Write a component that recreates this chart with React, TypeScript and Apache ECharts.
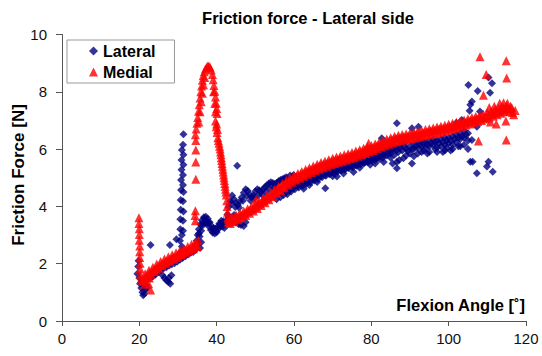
import React, { useEffect, useRef } from "react";
import * as echarts from "echarts";

const FONT = "'Liberation Sans', Arial, Helvetica, sans-serif";

const xTicks = [0, 20, 40, 60, 80, 100, 120];
const yTicks = [0, 2, 4, 6, 8, 10];

// ---------------- Lateral (navy diamonds) ----------------
const lateralLowCluster = [
  [19.5, 1.65], [19.7, 1.9], [20.0, 1.5], [20.2, 1.3], [20.5, 1.15], [20.8, 1.0], [21.0, 0.9],
  [21.3, 0.95], [21.6, 1.1], [21.8, 1.25], [22.0, 1.15], [21.2, 1.2], [20.6, 1.35], [19.8, 2.1],
];
const lateralLowBand = [
  [22.8, 1.5], [23.5, 1.55], [24.2, 1.62], [24.9, 1.7], [25.6, 1.78], [26.3, 1.84], [27.0, 1.88],
  [27.7, 1.94], [28.4, 1.98], [29.1, 2.02], [29.8, 2.08], [30.5, 2.14], [31.2, 2.2], [31.9, 2.26],
  [32.6, 2.32], [33.3, 2.38], [34.0, 2.42], [34.6, 2.5],
  [26.0, 1.6], [26.5, 1.5], [27.0, 1.42], [27.5, 1.36], [28.0, 1.3], [27.6, 1.5], [28.3, 1.6],
];
const lateralColumn = [
  [31.4, 6.52], [31.3, 6.15], [31.0, 5.97], [31.4, 5.8], [30.9, 5.62], [31.4, 5.45], [30.9, 5.28],
  [31.3, 5.1], [30.8, 4.92], [31.3, 4.75], [30.8, 4.57], [31.4, 4.5], [30.7, 4.22], [31.3, 4.18],
  [30.7, 3.88], [31.4, 3.82], [30.6, 3.55], [31.3, 3.5], [30.6, 3.2], [31.3, 3.15], [31.0, 3.0],
  [29.6, 2.85], [30.5, 2.8], [31.0, 2.6], [30.7, 2.4],
];
const lateralWave = [
  [34.8, 2.8], [35.1, 3.0], [35.4, 3.2], [35.8, 3.38], [36.2, 3.52], [36.7, 3.62], [37.2, 3.64],
  [37.7, 3.57], [38.2, 3.45], [38.7, 3.32], [39.2, 3.24], [39.7, 3.22], [40.2, 3.28], [40.7, 3.4],
  [41.2, 3.5], [41.7, 3.48], [42.2, 3.42], [42.6, 3.5],
  [34.2, 2.55], [34.7, 2.62], [35.2, 2.75], [35.6, 2.95], [36.0, 3.15], [36.5, 3.35], [37.0, 3.45],
  [37.5, 3.42], [38.0, 3.3], [38.5, 3.18], [39.0, 3.08], [39.5, 3.05], [40.0, 3.1], [40.5, 3.22],
  [41.0, 3.32], [41.5, 3.3], [42.0, 3.25], [36.0, 2.75], [35.7, 2.55],
  [35.4, 3.05], [36.1, 3.35], [36.9, 3.55], [37.9, 3.45], [38.9, 3.2], [39.9, 3.15], [40.9, 3.38],
  [41.9, 3.36],
];
const lateralRise = [
  [42.8, 3.72], [43.1, 3.98], [43.5, 4.18], [44.0, 4.38], [44.5, 4.25], [45.0, 4.12], [45.5, 4.05],
  [46.0, 4.18], [46.5, 4.32], [47.0, 4.48], [47.5, 4.6], [48.0, 4.55], [48.5, 4.42], [49.0, 4.32],
  [49.5, 4.38], [50.0, 4.52], [50.5, 4.6], [51.0, 4.56], [51.5, 4.52], [52.0, 4.6], [52.5, 4.68],
  [53.0, 4.74], [53.5, 4.8], [54.0, 4.84], [54.5, 4.82], [55.0, 4.78], [55.5, 4.82], [56.0, 4.88],
  [56.5, 4.92], [57.0, 4.95], [57.5, 4.98], [58.0, 5.02], [59.0, 5.08], [59.9, 5.1],
  [43.8, 4.1], [44.8, 3.98], [45.8, 3.95], [46.8, 4.2], [47.8, 4.35], [48.8, 4.2], [49.8, 4.3],
  [50.8, 4.4], [51.8, 4.4], [52.8, 4.5], [53.8, 4.62], [54.8, 4.66],
  [43.0, 3.6], [43.5, 3.42], [44.2, 3.5], [44.5, 3.7], [45.0, 3.45], [45.7, 3.38], [46.3, 3.35],
  [47.0, 3.32], [47.5, 3.45], [55.5, 4.25], [56.5, 4.32], [57.3, 4.4],
];
const lateralMidBand = [
  [58, 4.5], [59, 4.6], [60, 4.68], [61, 4.72], [62, 4.75], [63, 4.82], [64, 4.9], [65, 4.95],
  [66, 5.02], [67, 5.05], [68, 5.1], [69, 5.15], [70, 5.2], [71, 5.22], [72, 5.28], [73, 5.3],
  [74, 5.35], [75, 5.38], [76, 5.45], [77, 5.48], [78, 5.5], [79, 5.55], [80, 5.6], [81, 5.62],
  [82, 5.65], [83, 5.7], [84, 5.78], [85, 5.85],
  [58.5, 4.6], [59.5, 4.7], [60.5, 4.78], [61.5, 4.85], [62.5, 4.9], [63.5, 4.97], [64.5, 5.03],
  [65.5, 5.09], [66.5, 5.15], [67.5, 5.2], [68.5, 5.25], [69.5, 5.3], [70.5, 5.35], [71.5, 5.39],
  [72.5, 5.43], [73.5, 5.47], [74.5, 5.51], [75.5, 5.56], [76.5, 5.61], [77.5, 5.66], [78.5, 5.71],
  [79.5, 5.76], [80.5, 5.81], [81.5, 5.86], [82.5, 5.92], [83.5, 5.97], [84.5, 6.02],
  [62.5, 4.62], [68.1, 4.63], [66.0, 4.85], [71.1, 5.04], [75.4, 5.2], [79.7, 5.45], [72.8, 5.15],
  [77.0, 5.35], [64.0, 4.75], [70.0, 5.05], [82.7, 6.38], [83.2, 5.55], [81.0, 5.5],
];
const lateralMidBandLow = [
  [58.25, 4.42], [59.25, 4.52], [60.25, 4.6], [61.25, 4.66], [62.25, 4.72], [63.25, 4.78],
  [64.25, 4.84], [65.25, 4.9], [66.25, 4.96], [67.25, 5.02], [68.25, 5.07], [69.25, 5.12],
  [70.25, 5.17], [71.25, 5.21], [72.25, 5.25], [73.25, 5.29], [74.25, 5.33], [75.25, 5.37],
  [76.25, 5.42], [77.25, 5.47], [78.25, 5.52], [79.25, 5.57], [80.25, 5.62], [81.25, 5.68],
  [82.25, 5.73], [83.25, 5.79], [84.25, 5.84],
  [58.75, 4.55], [59.75, 4.65], [60.75, 4.73], [61.75, 4.8], [62.75, 4.87], [63.75, 4.93],
  [64.75, 4.99], [65.75, 5.05], [66.75, 5.11], [67.75, 5.16], [68.75, 5.21], [69.75, 5.26],
  [70.75, 5.3], [71.75, 5.34], [72.75, 5.38], [73.75, 5.42], [74.75, 5.46], [75.75, 5.51],
  [76.75, 5.56], [77.75, 5.61], [78.75, 5.66], [79.75, 5.71], [80.75, 5.76], [81.75, 5.82],
  [82.75, 5.88], [83.75, 5.93], [84.75, 5.98],
];
const lateralHighCluster = [
  [85, 5.95], [85, 6.15], [85, 5.7], [85.5, 5.5], [86, 6.05], [86, 5.8], [86.6, 5.33], [86.6, 5.55],
  [87, 6.1], [87, 5.9], [87.2, 5.62], [88, 6.2], [88, 5.95], [88.3, 5.68], [89, 6.0], [89, 5.78],
  [89, 6.25], [90, 6.1], [90, 5.85], [90.5, 5.5], [91, 6.2], [91, 6.0], [91, 5.75], [92, 6.25],
  [92, 6.05], [92, 5.85], [93, 6.3], [93, 6.1], [93, 5.9], [94, 6.25], [94, 6.05], [95, 6.3],
  [95, 6.1], [95, 5.9], [96, 6.35], [96, 6.15], [97, 6.3], [97, 6.05], [97, 5.9], [98, 6.35],
  [98, 6.1], [99, 6.4], [99, 6.15], [99, 5.95], [100, 6.4], [100, 6.2], [101, 6.45], [101, 6.15],
  [101, 6.0], [102, 6.5], [102, 6.25], [103, 6.55], [103, 6.35], [103, 6.1], [104, 6.65],
  [104, 6.4], [104, 6.15], [105, 6.55], [105, 6.3], [105, 6.0], [105.6, 5.56], [106, 6.32],
  [85.5, 6.0], [86.5, 5.95], [87.5, 6.05], [88.5, 6.1], [89.5, 5.95], [90.5, 6.0], [91.5, 6.1],
  [92.5, 6.15], [93.5, 6.2], [94.5, 6.15], [95.5, 6.2], [96.5, 6.25], [97.5, 6.2], [98.5, 6.25],
  [99.5, 6.3], [100.5, 6.3], [101.5, 6.35], [102.5, 6.4], [103.5, 6.45], [104.5, 6.5],
  [93.5, 5.95], [96.5, 6.0], [99.5, 6.05], [102.5, 6.1], [94.5, 5.85], [98.5, 5.9], [100.5, 5.95],
];
const lateralOutliers = [
  [22.9, 2.65], [27.9, 2.65], [45.3, 5.42],
  [86.6, 6.9], [92.2, 6.78], [90.5, 6.73], [102, 6.92], [103.4, 7.02], [105.1, 8.24], [111.2, 8.3],
  [110.3, 8.5], [107.5, 8.03], [110.7, 7.97], [106, 7.66], [105.4, 7.34], [108.1, 7.31],
  [107.3, 6.78], [106.2, 5.56], [107.3, 5.16], [110.3, 5.56], [109.9, 5.39], [111.4, 5.21],
  [105.6, 7.55],
];

// ---------------- Medial (red triangles) ----------------
const medialStartColumn = [
  [19.9, 3.6], [19.9, 3.4], [20.0, 3.22], [20.0, 3.02], [20.0, 2.82], [20.1, 2.62], [20.1, 2.42],
  [20.1, 2.22], [20.2, 2.02], [20.2, 1.82], [20.3, 1.62], [20.4, 1.45], [20.8, 1.38], [21.2, 1.45],
];
const medialLowBand = [
  [21.5, 1.65], [22.5, 1.77], [23.5, 1.88], [24.5, 1.99], [25.5, 2.08], [26.5, 2.16], [27.5, 2.24],
  [28.5, 2.31], [29.5, 2.38], [30.5, 2.46], [31.5, 2.53], [32.5, 2.6], [33.5, 2.68], [34.5, 2.76],
  [35.2, 2.82],
  [21, 1.42], [22, 1.52], [23, 1.63], [24, 1.74], [25, 1.84], [26, 1.93], [27, 2.0], [28, 2.08],
  [29, 2.15], [30, 2.22], [31, 2.3], [32, 2.37], [33, 2.44], [34, 2.52], [35, 2.6],
  [21.25, 1.5], [21.75, 1.56], [22.25, 1.62], [22.75, 1.68], [23.25, 1.73], [23.75, 1.79],
  [24.25, 1.84], [24.75, 1.89], [25.25, 1.94], [25.75, 1.99], [26.25, 2.03], [26.75, 2.07],
  [27.25, 2.1], [27.75, 2.14], [28.25, 2.18], [28.75, 2.22], [29.25, 2.25], [29.75, 2.29],
  [30.25, 2.32], [30.75, 2.36], [31.25, 2.4], [31.75, 2.44], [32.25, 2.47], [32.75, 2.51],
  [33.25, 2.54], [33.75, 2.58], [34.25, 2.62], [34.75, 2.66],
  [21.4, 1.28], [22.4, 1.3], [22.9, 1.08], [22.6, 1.5],
];
const medialIsolatedColumn = [
  [34.6, 6.3], [34.6, 5.97], [34.6, 5.55], [34.6, 4.95], [34.5, 3.85], [34.5, 3.5], [34.4, 3.68],
];
const medialPeak = [
  [34.5, 6.5], [34.7, 6.7], [34.9, 6.9], [35.1, 7.1], [35.3, 7.32], [35.5, 7.55], [35.7, 7.78],
  [35.9, 8.0], [36.1, 8.2], [36.3, 8.4], [36.5, 8.56], [36.8, 8.7], [37.1, 8.8], [37.4, 8.86],
  [37.7, 8.9], [38.0, 8.9],
  [35.4, 6.95], [35.7, 7.3], [36.0, 7.65], [36.3, 7.95], [36.6, 8.25], [36.9, 8.5],
  [38.3, 8.86], [38.6, 8.76], [38.9, 8.6], [39.1, 8.42], [39.3, 8.22], [39.5, 8.02], [39.7, 7.82],
  [39.9, 7.6], [40.0, 7.42], [40.1, 7.24], [39.2, 8.0], [39.5, 7.6], [39.7, 7.3],
  [39.7, 6.98], [39.9, 6.78], [40.1, 6.58], [40.3, 6.4], [40.6, 6.2], [40.9, 6.0], [41.1, 5.8],
  [41.3, 5.6], [41.5, 5.4], [41.7, 5.2], [41.9, 5.0], [42.1, 4.8], [42.3, 4.6], [42.5, 4.4],
  [42.6, 4.2], [42.7, 4.0], [42.8, 3.8], [42.9, 3.6], [43.0, 3.45],
  [40.0, 6.88], [40.2, 6.68], [40.45, 6.3], [40.75, 6.1], [41.0, 5.9], [41.2, 5.7], [41.4, 5.5],
  [41.6, 5.3], [41.8, 5.1], [42.0, 4.9], [42.2, 4.7], [42.4, 4.5],
];
const medialMainUpper = [
  [43, 3.55], [44, 3.62], [45, 3.7], [46, 3.77], [47, 3.84], [48, 3.92], [49, 4.0], [50, 4.08],
  [51, 4.18], [52, 4.28], [53, 4.38], [54, 4.48], [55, 4.6], [56, 4.7], [57, 4.8], [58, 4.9],
  [59, 5.0], [60, 5.08], [61, 5.15], [62, 5.22], [63, 5.29], [64, 5.35], [65, 5.41], [66, 5.47],
  [67, 5.53], [68, 5.58], [69, 5.63], [70, 5.68], [71, 5.72], [72, 5.76], [73, 5.8], [74, 5.84],
  [75, 5.88], [76, 5.93], [77, 5.98], [78, 6.03], [79, 6.08], [80, 6.13], [81, 6.18], [82, 6.24],
  [83, 6.3], [84, 6.35], [85, 6.4], [86, 6.45], [87, 6.48], [88, 6.51], [89, 6.53], [90, 6.56],
  [91, 6.59], [92, 6.62], [93, 6.65], [94, 6.68], [95, 6.71], [96, 6.74], [97, 6.77], [98, 6.8],
  [99, 6.83], [100, 6.87], [101, 6.9], [102, 6.94], [103, 6.98], [104, 7.02], [105, 7.06],
  [106, 7.1], [107, 7.14], [108, 7.18], [109, 7.22], [110, 7.27], [111, 7.32], [112, 7.38],
  [113, 7.43], [114, 7.48], [115, 7.52], [116, 7.5],
];
const medialMainMid = [
  [43.25, 3.47], [44.25, 3.54], [45.25, 3.62], [46.25, 3.69], [47.25, 3.76], [48.25, 3.84],
  [49.25, 3.92], [50.25, 4.0], [51.25, 4.1], [52.25, 4.2], [53.25, 4.3], [54.25, 4.41],
  [55.25, 4.52], [56.25, 4.62], [57.25, 4.72], [58.25, 4.82], [59.25, 4.92], [60.25, 5.0],
  [61.25, 5.07], [62.25, 5.14], [63.25, 5.2], [64.25, 5.26], [65.25, 5.32], [66.25, 5.38],
  [67.25, 5.44], [68.25, 5.49], [69.25, 5.54], [70.25, 5.59], [71.25, 5.63], [72.25, 5.67],
  [73.25, 5.71], [74.25, 5.75], [75.25, 5.79], [76.25, 5.84], [77.25, 5.89], [78.25, 5.94],
  [79.25, 5.99], [80.25, 6.04], [81.25, 6.1], [82.25, 6.15], [83.25, 6.21], [84.25, 6.26],
  [85.25, 6.31], [86.25, 6.36], [87.25, 6.39], [88.25, 6.42], [89.25, 6.44], [90.25, 6.47],
  [91.25, 6.5], [92.25, 6.53], [93.25, 6.56], [94.25, 6.59], [95.25, 6.62], [96.25, 6.65],
  [97.25, 6.68], [98.25, 6.71], [99.25, 6.74], [100.25, 6.78], [101.25, 6.81], [102.25, 6.85],
  [103.25, 6.89], [104.25, 6.93], [105.25, 6.97], [106.25, 7.01], [107.25, 7.05], [108.25, 7.09],
  [109.25, 7.13], [110.25, 7.18], [111.25, 7.24], [112.25, 7.29], [113.25, 7.34], [114.25, 7.39],
  [115.25, 7.42],
  [43.75, 3.5], [44.75, 3.58], [45.75, 3.66], [46.75, 3.73], [47.75, 3.81], [48.75, 3.89],
  [49.75, 3.97], [50.75, 4.07], [51.75, 4.17], [52.75, 4.27], [53.75, 4.37], [54.75, 4.49],
  [55.75, 4.6], [56.75, 4.7], [57.75, 4.8], [58.75, 4.9], [59.75, 4.98], [60.75, 5.05],
  [61.75, 5.12], [62.75, 5.19], [63.75, 5.25], [64.75, 5.31], [65.75, 5.37], [66.75, 5.43],
  [67.75, 5.48], [68.75, 5.53], [69.75, 5.58], [70.75, 5.62], [71.75, 5.66], [72.75, 5.7],
  [73.75, 5.74], [74.75, 5.78], [75.75, 5.83], [76.75, 5.88], [77.75, 5.93], [78.75, 5.98],
  [79.75, 6.03], [80.75, 6.08], [81.75, 6.14], [82.75, 6.2], [83.75, 6.25], [84.75, 6.3],
  [85.75, 6.35], [86.75, 6.38], [87.75, 6.41], [88.75, 6.43], [89.75, 6.46], [90.75, 6.49],
  [91.75, 6.52], [92.75, 6.55], [93.75, 6.58], [94.75, 6.61], [95.75, 6.64], [96.75, 6.67],
  [97.75, 6.7], [98.75, 6.73], [99.75, 6.77], [100.75, 6.8], [101.75, 6.84], [102.75, 6.88],
  [103.75, 6.92], [104.75, 6.96], [105.75, 7.0], [106.75, 7.04], [107.75, 7.08], [108.75, 7.12],
  [109.75, 7.17], [110.75, 7.22], [111.75, 7.28], [112.75, 7.33], [113.75, 7.38], [114.75, 7.42],
  [115.75, 7.4],
];
const medialMainLower = [
  [43.5, 3.4], [44.5, 3.46], [45.5, 3.53], [46.5, 3.6], [47.5, 3.68], [48.5, 3.76], [49.5, 3.84],
  [50.5, 3.93], [51.5, 4.03], [52.5, 4.13], [53.5, 4.23], [54.5, 4.34], [55.5, 4.45], [56.5, 4.55],
  [57.5, 4.65], [58.5, 4.75], [59.5, 4.84], [60.5, 4.92], [61.5, 4.98], [62.5, 5.05], [63.5, 5.12],
  [64.5, 5.18], [65.5, 5.24], [66.5, 5.3], [67.5, 5.35], [68.5, 5.4], [69.5, 5.45], [70.5, 5.5],
  [71.5, 5.54], [72.5, 5.58], [73.5, 5.62], [74.5, 5.66], [75.5, 5.7], [76.5, 5.75], [77.5, 5.8],
  [78.5, 5.85], [79.5, 5.9], [80.5, 5.95], [81.5, 6.01], [82.5, 6.07], [83.5, 6.12], [84.5, 6.17],
  [85.5, 6.22], [86.5, 6.26], [87.5, 6.29], [88.5, 6.32], [89.5, 6.35], [90.5, 6.37], [91.5, 6.4],
  [92.5, 6.43], [93.5, 6.46], [94.5, 6.49], [95.5, 6.52], [96.5, 6.55], [97.5, 6.58], [98.5, 6.61],
  [99.5, 6.65], [100.5, 6.68], [101.5, 6.72], [102.5, 6.76], [103.5, 6.8], [104.5, 6.84],
  [105.5, 6.88], [106.5, 6.92], [107.5, 6.96], [108.5, 7.0], [109.5, 7.05], [110.5, 7.09],
  [111.5, 7.15], [112.5, 7.2], [113.5, 7.25], [114.5, 7.3], [115.5, 7.32], [116.5, 7.28],
];
const medialEndSpikes = [
  [110.5, 7.45], [111.8, 7.5], [113.2, 7.6], [114.2, 7.62], [115.2, 7.6], [116.3, 7.45],
  [112.3, 6.88], [114.8, 6.98], [110.8, 6.95], [116.8, 7.2], [117.2, 7.35],
];
const medialOutliers = [
  [108.1, 9.22], [114.9, 9.08], [109.7, 8.6], [115.0, 8.48], [109.0, 7.88], [107.7, 6.28],
  [114.9, 6.32], [79.3, 6.2], [50.2, 4.25],
];

const lateralData = [
  ...lateralLowCluster, ...lateralLowBand, ...lateralColumn, ...lateralWave, ...lateralRise,
  ...lateralMidBand, ...lateralMidBandLow, ...lateralHighCluster, ...lateralOutliers,
];
const medialData = [
  ...medialStartColumn, ...medialLowBand, ...medialIsolatedColumn, ...medialPeak,
  ...medialMainUpper, ...medialMainMid, ...medialMainLower, ...medialEndSpikes, ...medialOutliers,
];

export default function App() {
  const ref = useRef<HTMLDivElement>(null);
  useEffect(() => {
    if (!ref.current) return;
    const chart = echarts.init(ref.current, null, { renderer: "svg" });
    chart.setOption({
      animation: false,
      backgroundColor: "#ffffff",
      textStyle: { fontFamily: FONT },
      grid: { left: 62, right: 16, top: 34.5, bottom: 35, containLabel: false },
      xAxis: {
        type: "value",
        min: xTicks[0],
        max: xTicks[xTicks.length - 1],
        interval: 20,
        axisLine: { show: true, lineStyle: { color: "#555", width: 1 } },
        axisTick: { show: true, length: 5, lineStyle: { color: "#555" } },
        splitLine: { show: false },
        axisLabel: { fontSize: 15, color: "#111", margin: 10, fontFamily: FONT },
      },
      yAxis: {
        type: "value",
        min: yTicks[0],
        max: yTicks[yTicks.length - 1],
        interval: 2,
        axisLine: { show: true, lineStyle: { color: "#555", width: 1 } },
        axisTick: { show: true, length: 6, lineStyle: { color: "#555" } },
        splitLine: { show: false },
        axisLabel: { fontSize: 15, color: "#111", margin: 15, fontFamily: FONT },
      },
      legend: {
        data: ["Lateral", "Medial"],
        orient: "vertical",
        left: 67,
        top: 40,
        padding: [3, 19, 3, 22],
        itemGap: 5,
        itemWidth: 9,
        itemHeight: 9,
        backgroundColor: "#ffffff",
        borderColor: "#999",
        borderWidth: 1,
        borderRadius: 0,
        textStyle: { fontSize: 16, fontWeight: "bold", color: "#000", fontFamily: FONT, lineHeight: 16 },
      },
      graphic: [
        {
          type: "text",
          x: 308,
          y: 18,
          style: {
            text: "Friction force - Lateral side",
            font: `bold 16.5px ${FONT}`,
            fill: "#000",
            textAlign: "center",
            textVerticalAlign: "middle",
          },
        },
        {
          type: "text",
          x: 18,
          y: 175,
          rotation: Math.PI / 2,
          style: {
            text: "Friction Force [N]",
            font: `bold 17px ${FONT}`,
            fill: "#000",
            textAlign: "center",
            textVerticalAlign: "middle",
          },
        },
        {
          type: "text",
          x: 525,
          y: 305,
          style: {
            text: "Flexion Angle [˚]",
            font: `bold 16.5px ${FONT}`,
            fill: "#000",
            textAlign: "right",
            textVerticalAlign: "middle",
          },
        },
      ],
      series: [
        {
          name: "Lateral",
          type: "scatter",
          symbol: "diamond",
          symbolSize: 8,
          itemStyle: { color: "#000080" },
          data: lateralData,
        },
        {
          name: "Medial",
          type: "scatter",
          symbol: "triangle",
          symbolSize: 9,
          itemStyle: { color: "#ff0000" },
          data: medialData,
        },
      ],
    });
    return () => chart.dispose();
  }, []);
  return (
    <div
      ref={ref}
      style={{ position: "absolute", left: 0, top: 0, width: 542, height: 356 }}
    />
  );
}
